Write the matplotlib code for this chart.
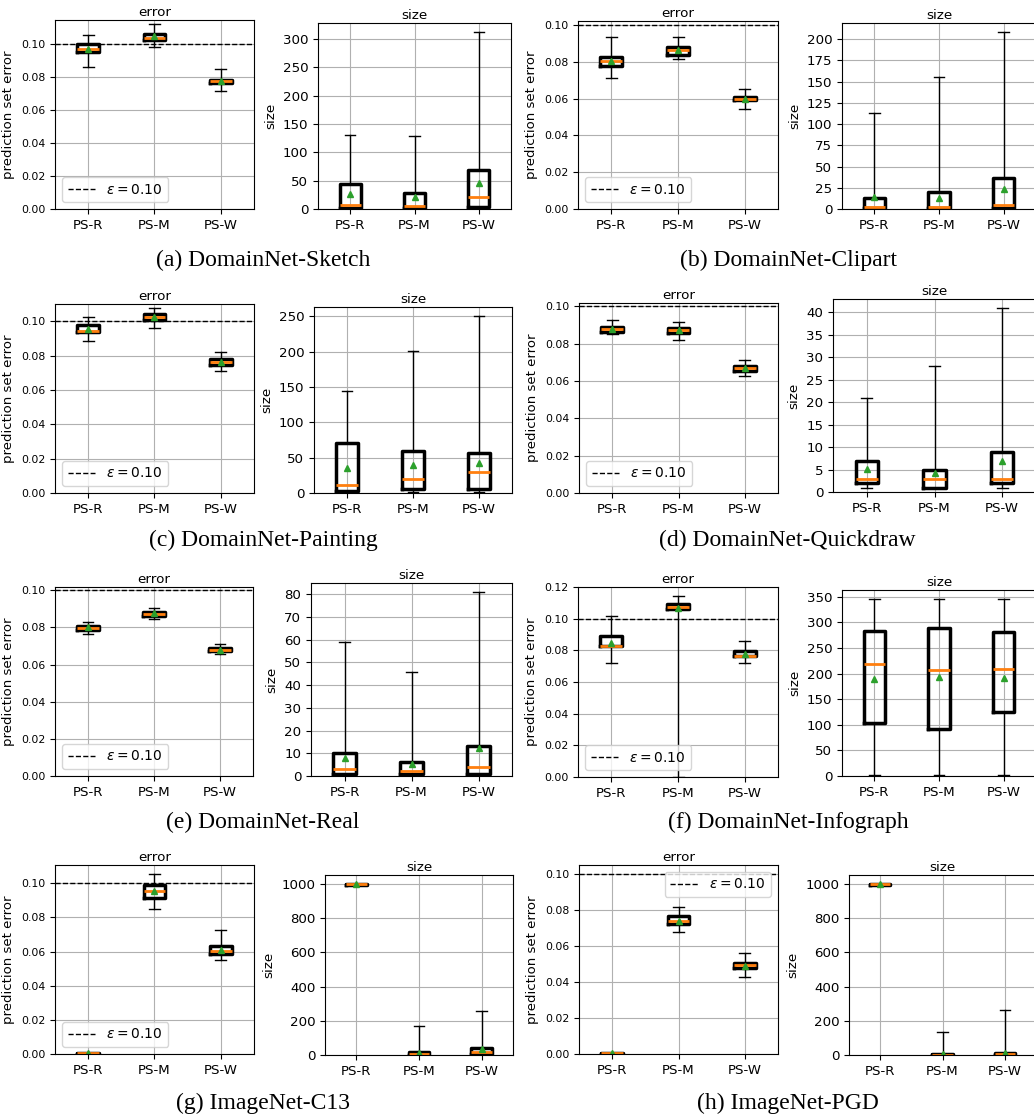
import matplotlib
matplotlib.use("Agg")
import matplotlib.pyplot as plt
from matplotlib.ticker import MultipleLocator

# ---------------- data ----------------
methods = ["PS-R", "PS-M", "PS-W"]
captions = ["(a) DomainNet-Sketch", "(b) DomainNet-Clipart", "(c) DomainNet-Painting",
            "(d) DomainNet-Quickdraw", "(e) DomainNet-Real", "(f) DomainNet-Infograph",
            "(g) ImageNet-C13", "(h) ImageNet-PGD"]
epsilon = 0.10

# each entry: (whislo, q1, median, q3, whishi, mean) for PS-R, PS-M, PS-W
sketch_error = [(0.0865, 0.0956, 0.0973, 0.1004, 0.1055, 0.0972),
                (0.0987, 0.1028, 0.1041, 0.1064, 0.1124, 0.1050),
                (0.0717, 0.0767, 0.0777, 0.0786, 0.0851, 0.0778)]
sketch_size = [(1, 2, 7, 44, 130, 26), (1, 2, 6, 29, 128, 22), (1, 4, 22, 68, 312, 45)]

clipart_error = [(0.0711, 0.0777, 0.0803, 0.0825, 0.0935, 0.0803),
                 (0.0814, 0.0835, 0.0862, 0.0878, 0.0937, 0.0862),
                 (0.0543, 0.0590, 0.0598, 0.0610, 0.0654, 0.0598)]
clipart_size = [(1, 1, 2, 13, 113, 14), (1, 1, 2, 20, 156, 13), (1, 1, 5, 37, 208, 24)]

painting_error = [(0.0888, 0.0936, 0.0944, 0.0977, 0.1025, 0.0955),
                  (0.0960, 0.1008, 0.1024, 0.1046, 0.1080, 0.1025),
                  (0.0710, 0.0745, 0.0762, 0.0779, 0.0825, 0.0762)]
painting_size = [(1, 3, 12, 71, 144, 35), (1, 5, 20, 59, 201, 39), (1, 5, 29, 56, 250, 42)]

quickdraw_error = [(0.0851, 0.0861, 0.0877, 0.0887, 0.0927, 0.0877),
                   (0.0822, 0.0859, 0.0873, 0.0884, 0.0915, 0.0873),
                   (0.0628, 0.0651, 0.0668, 0.0681, 0.0711, 0.0668)]
quickdraw_size = [(1, 2, 3, 7, 21, 5.1), (1, 1, 3, 5, 28, 4.2), (1, 2, 3, 9, 41, 6.8)]

real_error = [(0.0766, 0.0786, 0.0798, 0.0810, 0.0829, 0.0800),
              (0.0846, 0.0862, 0.0871, 0.0882, 0.0905, 0.0876),
              (0.0656, 0.0671, 0.0680, 0.0690, 0.0709, 0.0681)]
real_size = [(0, 1, 3, 10, 59, 8), (1, 1, 2, 6, 46, 5.5), (1, 1, 4, 13, 81, 12.5)]

infograph_error = [(0.0720, 0.0830, 0.0830, 0.0888, 0.1014, 0.0845),
                   (0.0000, 0.1060, 0.1076, 0.1095, 0.1145, 0.1070),
                   (0.0720, 0.0764, 0.0765, 0.0798, 0.0862, 0.0778)]
infograph_size = [(1, 104, 219, 283, 345, 190), (1, 92, 206, 289, 345, 193), (1, 124, 209, 282, 345, 192)]

c13_error = [(0.0002, 0.0002, 0.0003, 0.0004, 0.0005, 0.0003),
             (0.0848, 0.0914, 0.0956, 0.0988, 0.1053, 0.0955),
             (0.0553, 0.0586, 0.0606, 0.0630, 0.0725, 0.0610)]
c13_size = [(995, 996, 999, 1000, 1000, 998), (1, 2, 5, 15, 170, 12), (1, 5, 15, 38, 255, 35)]

pgd_error = [(0.0002, 0.0002, 0.0003, 0.0004, 0.0005, 0.0003),
             (0.0679, 0.0724, 0.0738, 0.0768, 0.0818, 0.0742),
             (0.0428, 0.0481, 0.0493, 0.0509, 0.0564, 0.0492)]
pgd_size = [(995, 996, 999, 1000, 1000, 998), (1, 1, 2, 5, 135, 4), (1, 2, 5, 12, 265, 10)]

error_data = [sketch_error, clipart_error, painting_error, quickdraw_error,
              real_error, infograph_error, c13_error, pgd_error]
size_data = [sketch_size, clipart_size, painting_size, quickdraw_size,
             real_size, infograph_size, c13_size, pgd_size]

error_ylim = [0.1148, 0.1022, 0.1102, 0.1018, 0.1018, 0.1200, 0.1107, 0.1052]
size_ylim = [328, 219, 263, 43, 85, 363, 1052, 1052]
size_tick_step = [50, 25, 50, 5, 10, 50, 200, 200]
legend_loc = ["lower left"] * 7 + ["upper right"]

# ---------------- layout (pixels: left, top, right, bottom) ----------------
W, H = 1034, 1118
err_rects = [(55, 20, 254, 209), (578, 21, 778, 209),
             (55, 304, 254, 493), (579, 303, 778, 493),
             (55, 587, 253, 776), (578, 587, 778, 777),
             (55, 865, 254, 1054), (579, 865, 778, 1054)]
size_rects = [(318, 23, 511, 209), (842, 23, 1036, 209),
              (314, 307, 512, 493), (833, 299, 1036, 492),
              (311, 583, 512, 776), (842, 590, 1036, 776),
              (325, 875, 513, 1055), (849, 875, 1036, 1055)]
cap_pos = [(263, 260), (788, 260), (263, 540), (787, 540),
           (263, 822), (788, 822), (263, 1103), (788, 1103)]


def rect(r):
    l, t, rr, b = r
    return [l / W, 1 - b / H, (rr - l) / W, (b - t) / H]


def stats_of(rows):
    out = []
    for name, (lo, q1, med, q3, hi, mean) in zip(methods, rows):
        out.append(dict(label=name, whislo=lo, q1=q1, med=med, q3=q3,
                        whishi=hi, mean=mean, fliers=[]))
    return out


box_kw = dict(
    positions=[1, 2, 3], widths=0.33, showmeans=True, showfliers=False,
    patch_artist=False,
    boxprops=dict(color="black", linewidth=2.5),
    whiskerprops=dict(color="black", linewidth=1.0),
    capprops=dict(color="black", linewidth=1.0),
    medianprops=dict(color="#ff7f0e", linewidth=2.0),
    meanprops=dict(marker="^", markerfacecolor="#2ca02c",
                   markeredgecolor="#2ca02c", markersize=5),
)

fig = plt.figure(figsize=(W / 100, H / 100), dpi=100)

for i in range(8):
    # error panel
    ax = fig.add_axes(rect(err_rects[i]))
    ax.grid(True, color="#b0b0b0", linewidth=0.8)
    ax.set_axisbelow(True)
    ax.axhline(epsilon, color="black", linestyle="--", linewidth=1.0,
               label=r"$\epsilon = %.2f$" % epsilon, zorder=1)
    ax.bxp(stats_of(error_data[i]), **box_kw)
    ax.set_xticks([1, 2, 3], methods)
    ax.set_xlim(0.5, 3.5)
    ax.set_ylim(0, error_ylim[i])
    ax.yaxis.set_major_locator(MultipleLocator(0.02))
    ax.tick_params(axis="y", labelsize=7.8)
    ax.tick_params(axis="x", labelsize=9.6)
    ax.set_ylabel("prediction set error", fontsize=9.5)
    ax.set_title("error", fontsize=9.7, pad=3)
    ax.legend(loc=legend_loc[i], fontsize=10)

    # size panel
    ax2 = fig.add_axes(rect(size_rects[i]))
    ax2.grid(True, color="#b0b0b0", linewidth=0.8)
    ax2.set_axisbelow(True)
    ax2.bxp(stats_of(size_data[i]), **box_kw)
    ax2.set_xticks([1, 2, 3], methods)
    ax2.set_xlim(0.5, 3.5)
    ax2.set_ylim(0, size_ylim[i])
    ax2.yaxis.set_major_locator(MultipleLocator(size_tick_step[i]))
    ax2.tick_params(axis="y", labelsize=9.6)
    ax2.tick_params(axis="x", labelsize=9.6)
    ax2.set_ylabel("size", fontsize=9.7)
    ax2.set_title("size", fontsize=9.7, pad=3)

    cx, cy = cap_pos[i]
    fig.text(cx / W, 1 - cy / H, captions[i], ha="center", va="center",
             fontsize=17, family="Liberation Serif")

fig.savefig("out.png", dpi=100)
